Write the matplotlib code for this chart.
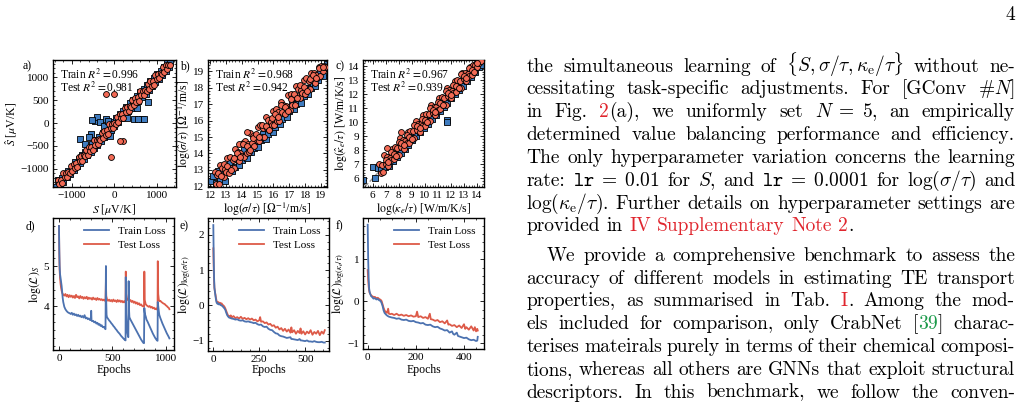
import numpy as np
import matplotlib
matplotlib.use('Agg')
import matplotlib.pyplot as plt
from matplotlib.ticker import MultipleLocator

W, H = 1025, 409
plt.rcParams.update({
    'font.family': ['Liberation Serif', 'DejaVu Serif'],
    'mathtext.fontset': 'stix',
    'font.size': 8,
    'axes.labelsize': 8.5,
    'axes.linewidth': 1.0,
    'xtick.direction': 'in', 'ytick.direction': 'in',
    'xtick.top': True, 'ytick.right': True,
    'xtick.minor.visible': True, 'ytick.minor.visible': True,
    'xtick.major.size': 3, 'ytick.major.size': 3,
    'xtick.minor.size': 1.5, 'ytick.minor.size': 1.5,
    'xtick.major.width': 0.6, 'ytick.major.width': 0.6,
    'xtick.minor.width': 0.5, 'ytick.minor.width': 0.5,
    'xtick.major.pad': 2.8, 'ytick.major.pad': 2.8,
    'legend.frameon': False,
})

# ---------------- data ----------------
# panel a: Seebeck S (true, predicted)
a_train = [(-1360,-1390),(-1320,-1250),(-1280,-1340),(-1240,-1200),(-1200,-1280),(-1160,-1110),(-1120,-1190),
           (-1080,-1060),(-1040,-1110),(-1000,-960),(-960,-1030),(-920,-860),(-880,-950),(-840,-790),(-800,-870),
           (-760,-700),(-720,-790),(-680,-630),(-640,-700),(-600,-550),(-560,-640),(-520,-460),(-480,-540),
           (-440,-380),(-400,-470),(-360,-300),(-320,-390),(-280,-220),(-240,-300),(-200,-140),(-160,-230),
           (-120,-60),(-80,-150),(-40,20),(0,-70),(40,110),(80,20),(120,190),(160,100),(200,270),(240,180),
           (280,350),(320,260),(360,430),(400,330),(440,510),(480,410),(520,590),(560,490),(600,670),(640,570),
           (680,750),(720,650),(760,830),(800,730),(840,910),(880,810),(920,990),(960,890),(1000,1070),
           (1040,970),(1080,1150),(1120,1050),(1160,1230),(1200,1130),(1240,1310),(1280,1230),(1300,1340),
           (-465,50),(-814,-341),(-116,-276),(651,93),(465,93),(737,630),(-420,130),(-330,20),(-560,-250),
           (-250,-60),(300,110),(520,320),(-700,-460),(780,470),(-600,-300),(-200,80),(-520,60),(-150,40),
           (560,80),(700,90)]
a_test = [(-1320,-1250),(-1290,-1340),(-1260,-1240),(-1230,-1320),(-1200,-1100),(-1170,-1190),(-1140,-1090),
          (-1110,-1180),(-1080,-1070),(-1050,-1090),(-1020,-940),(-990,-1050),(-960,-890),(-930,-980),
          (-900,-880),(-870,-960),(-840,-740),(-810,-830),(-780,-730),(-750,-820),(-720,-710),(-690,-730),
          (-660,-580),(-630,-690),(-600,-530),(-570,-620),(-540,-520),(-510,-600),(-480,-380),(-450,-470),
          (-420,-370),(-390,-460),(-360,-350),(-330,-370),(-300,-220),(-270,-330),(-240,-170),(-210,-260),
          (-180,-160),(-150,-240),(-120,-20),(-90,-110),(-60,-10),(-30,-100),(0,10),(30,-10),(60,140),(90,30),
          (120,190),(150,100),(180,200),(210,120),(240,340),(270,250),(300,350),(330,260),(360,370),(390,350),
          (420,500),(450,390),(480,550),(510,460),(540,560),(570,480),(600,700),(630,610),(660,710),(690,620),
          (720,730),(750,710),(780,860),(810,750),(840,910),(870,820),(900,920),(930,840),(960,1060),(990,970),
          (1020,1070),(1050,980),(1080,1090),(1110,1070),(1140,1220),(1170,1110),(1200,1270),(1230,1180),
          (1260,1280),(1290,1260),(-193,643),(0,643),(-77,-748),(193,-385),(140,-385)]

# panel b: log(sigma/tau)
b_train = [(12.05,12.3),(12.2,12.6),(12.35,12.2),(12.5,12.9),(12.65,12.4),(12.8,12.8),(12.95,12.3),(13.1,12.9),
           (13.25,13.5),(13.4,12.9),(13.55,13.2),(13.7,13.7),(13.85,13.3),(14.0,13.6),(14.15,14.2),(14.3,13.7),
           (14.45,14.1),(14.6,14.1),(14.75,14.3),(14.9,14.7),(15.05,14.4),(15.2,14.8),(15.35,15.2),(15.5,14.9),
           (15.65,15.2),(15.8,15.6),(15.95,15.3),(16.1,15.6),(16.25,16.2),(16.4,15.8),(16.55,16.1),(16.7,16.5),
           (16.85,16.2),(17.0,16.6),(17.15,17.1),(17.3,16.7),(17.45,17.0),(17.6,17.4),(17.75,17.1),(17.9,17.5),
           (18.05,18.0),(18.2,17.6),(18.35,18.0),(18.5,18.3),(18.65,18.1),(18.8,18.5),(18.95,18.9),(19.1,18.7),
           (19.25,19.2),(19.35,19.45),(19.4,19.3)]
b_test = [(12.30,12.85),(12.38,12.13),(12.46,12.66),(12.54,12.14),(12.62,13.32),(12.70,12.70),(12.78,13.13),
          (12.86,12.56),(12.94,13.04),(13.02,12.87),(13.10,13.70),(13.18,12.83),(13.26,13.81),(13.34,13.09),
          (13.42,13.62),(13.50,13.10),(13.58,14.28),(13.66,13.66),(13.74,14.09),(13.82,13.52),(13.90,14.00),
          (13.98,13.83),(14.06,14.66),(14.14,13.79),(14.22,14.77),(14.30,14.05),(14.38,14.58),(14.46,14.06),
          (14.54,15.24),(14.62,14.62),(14.70,15.05),(14.78,14.48),(14.86,14.96),(14.94,14.79),(15.02,15.62),
          (15.10,14.75),(15.18,15.73),(15.26,15.01),(15.34,15.54),(15.42,15.02),(15.50,16.20),(15.58,15.58),
          (15.66,16.01),(15.74,15.44),(15.82,15.92),(15.90,15.75),(15.98,16.58),(16.06,15.71),(16.14,16.69),
          (16.22,15.97),(16.30,16.50),(16.38,15.98),(16.46,17.16),(16.54,16.54),(16.62,16.97),(16.70,16.40),
          (16.78,16.88),(16.86,16.71),(16.94,17.54),(17.02,16.67),(17.10,17.65),(17.18,16.93),(17.26,17.46),
          (17.34,16.94),(17.42,18.12),(17.50,17.50),(17.58,17.93),(17.66,17.36),(17.74,17.84),(17.82,17.67),
          (17.90,18.50),(17.98,17.63),(18.06,18.61),(18.14,17.89),(18.22,18.42),(18.30,17.90),(18.38,18.88),
          (18.46,18.46),(18.54,18.89),(18.62,18.32),(18.70,18.80),(18.78,18.63),(18.86,19.26),(18.94,18.74),
          (19.02,19.32),(19.10,19.00),(19.18,19.33),(19.26,19.26),(14.3,15.3),(13.8,14.6),
          (12.5,12.8),(12.7,12.6),(12.9,13.35),(13.1,13.25),(13.3,13.0),(13.5,13.75),(13.7,14.0),(13.9,13.8),
          (14.1,14.55),(14.3,14.45),(14.5,14.2),(14.7,14.95),(14.9,15.2),(15.1,15.0),(15.3,15.75),(15.5,15.65),
          (15.7,15.4),(15.9,16.15),(16.1,16.4),(16.3,16.2),(16.5,16.95),(16.7,16.85),(16.9,16.6),(17.1,17.35),
          (17.3,17.6),(17.5,17.4),(17.7,18.15),(17.9,18.05),(18.1,17.8),(18.3,18.55),(18.5,18.8),(18.7,18.6),
          (18.9,19.2),(19.1,19.25)]

# panel c: log(kappa_e/tau)
c_train = [(5.25,5.88),(6.18,6.0),(6.05,6.83),(6.8,6.95),(6.4,6.7),(6.6,6.6),(6.95,6.8),(7.1,7.3),(7.25,6.9),
           (7.4,7.5),(7.55,7.2),(7.7,7.7),(7.85,7.5),(8.0,8.1),(8.15,7.8),(8.3,8.3),(8.45,8.1),(8.6,8.7),
           (8.75,8.4),(8.9,9.0),(9.05,8.7),(9.2,9.3),(9.35,9.0),(9.5,9.6),(9.65,9.3),(9.8,9.9),(9.95,9.6),
           (10.1,10.2),(10.25,9.9),(10.4,10.5),(10.55,10.2),(10.7,10.8),(10.85,10.5),(11.0,11.1),(11.15,10.8),
           (11.3,11.4),(11.45,11.1),(11.7,10.15),(11.7,10.0),(11.6,11.7),(11.75,11.4),(11.9,12.0),(12.05,11.7),
           (12.2,12.3),(12.35,12.0),(12.5,12.6),(12.65,12.3),(12.8,12.9),(12.95,12.6),(13.1,13.2),(13.25,12.9),
           (13.4,13.5),(13.55,13.2),(13.7,13.8),(13.85,13.6),(14.0,14.1),(14.15,13.9),(14.3,14.3),(14.4,14.1),
           (14.35,14.4)]
c_test = [(6.5,7.0),(6.6,6.4),(6.7,6.95),(6.8,6.45),(6.9,7.65),(7.0,7.05),(7.1,7.5),(7.2,6.9),(7.3,7.45),
          (7.4,7.3),(7.5,8.1),(7.6,7.35),(7.7,8.2),(7.8,7.6),(7.9,8.15),(8.0,7.65),(8.1,8.85),(8.2,8.25),
          (8.3,8.7),(8.4,8.1),(8.5,8.65),(8.6,8.5),(8.7,9.3),(8.8,8.55),(8.9,9.4),(9.0,8.8),(9.1,9.35),(9.2,8.85),
          (9.3,10.05),(9.4,9.45),(9.5,9.9),(9.6,9.3),(9.7,9.85),(9.8,9.7),(9.9,10.5),(10.0,9.75),(10.1,10.6),
          (10.2,10.0),(10.3,10.55),(10.4,10.05),(10.5,11.25),(10.6,10.65),(10.7,11.1),(10.8,10.5),(10.9,11.05),
          (11.0,10.9),(11.1,11.7),(11.2,10.95),(11.3,11.8),(11.4,11.2),(11.5,11.75),(11.6,11.25),(11.7,12.45),
          (11.8,11.85),(11.9,12.3),(12.0,11.7),(12.1,12.25),(12.2,12.1),(12.3,12.9),(12.4,12.15),(12.5,13.0),
          (12.6,12.4),(12.7,12.95),(12.8,12.45),(12.9,13.5),(13.0,13.05),(13.1,13.5),(13.2,12.9),(13.3,13.45),
          (13.4,13.3),(13.5,13.95),(13.6,13.35),(13.7,14.05),(13.8,13.6),(13.9,14.1),(14.0,13.9),(14.1,14.3),
          (14.2,14.2),(14.3,14.35),(7.07,8.14),(8.2,9.3),
          (7.0,7.3),(7.2,7.15),(7.4,7.85),(7.6,7.75),(7.8,7.6),(8.0,8.6),(8.2,8.5),(8.4,8.35),(8.6,9.05),
          (8.8,8.95),(9.0,8.8),(9.2,9.8),(9.4,9.7),(9.6,9.55),(9.8,10.25),(10.0,10.15),(10.2,10.0),(10.4,11.0),
          (10.6,10.9),(10.8,10.75),(11.0,11.45),(11.2,11.35),(11.4,11.2),(11.6,12.2),(11.8,12.1),(12.0,11.95),
          (12.2,12.65),(12.4,12.55),(12.6,12.4),(12.8,13.4),(13.0,13.3),(13.2,13.15),(13.4,13.85),(13.6,13.75),
          (13.8,13.6),(14.0,14.25)]

r2_labels = [("0.996", "0.981"), ("0.968", "0.942"), ("0.967", "0.939")]

# loss curves (epoch, log loss)
d_train = [(0,6.0),(3,5.4),(6,5.0),(10,4.8),(15,4.7),(20,4.6),(25,4.5),(30,4.35),(35,4.2),(40,4.1),(50,3.98),
           (60,3.92),(70,3.88),(80,3.85),(90,3.83),(100,3.82),(110,3.8),(120,3.83),(130,3.78),(140,3.81),
           (150,3.77),(160,3.79),(170,3.75),(180,3.78),(190,3.74),(200,3.76),(210,3.72),(220,3.75),(230,3.71),
           (240,3.77),(250,3.69),(260,3.71),(270,3.67),(280,3.69),(290,3.65),(300,3.66),(302,3.88),(305,3.64),
           (310,3.62),(320,3.63),(330,3.59),(340,3.61),(350,3.56),(360,3.58),(370,3.53),(380,3.55),(390,3.5),
           (400,3.52),(410,3.47),(420,3.48),(430,3.44),(436,3.42),(440,5.0),(442,4.2),(446,3.78),(450,3.72),
           (460,3.68),(470,3.64),(480,3.61),(490,3.57),(500,3.54),(510,3.5),(520,3.47),(530,3.43),(540,3.4),
           (550,3.36),(560,3.33),(570,3.3),(580,3.26),(590,3.23),(600,3.2),(610,3.17),(618,3.15),(624,3.14),
           (626,4.72),(630,3.8),(636,3.5),(640,3.35),(646,3.25),(650,3.22),(653,4.62),(656,3.95),(660,3.72),
           (670,3.66),(680,3.61),(690,3.56),(700,3.51),(710,3.46),(720,3.41),(730,3.36),(740,3.31),(750,3.26),
           (760,3.21),(770,3.16),(780,3.12),(790,3.08),(797,3.07),(800,3.95),(803,3.85),(808,3.78),(815,3.72),
           (820,3.66),(830,3.61),(840,3.55),(850,3.49),(860,3.43),(870,3.37),(880,3.31),(890,3.26),(900,3.21),
           (910,3.17),(918,3.14),(924,3.13),(926,4.1),(930,4.0),(935,3.88),(940,3.78),(950,3.7),(960,3.63),
           (970,3.56),(980,3.5),(990,3.44),(1000,3.38),(1010,3.32),(1020,3.27),(1030,3.22),(1035,3.19)]
d_test = [(0,6.0),(3,5.3),(6,4.9),(10,4.7),(15,4.55),(20,4.45),(25,4.38),(30,4.33),(40,4.28),(50,4.26),
          (60,4.3),(70,4.24),(80,4.28),(90,4.22),(100,4.27),(110,4.23),(120,4.26),(130,4.21),(140,4.25),
          (150,4.2),(160,4.28),(170,4.22),(180,4.24),(190,4.19),(200,4.25),(210,4.2),(220,4.23),(230,4.18),
          (240,4.22),(250,4.19),(260,4.23),(270,4.17),(280,4.21),(290,4.18),(300,4.2),(310,4.16),(320,4.21),
          (330,4.17),(340,4.19),(350,4.15),(360,4.2),(370,4.16),(380,4.18),(390,4.15),(400,4.17),(410,4.14),
          (420,4.16),(430,4.13),(436,4.13),(440,4.62),(443,4.25),(450,4.17),(460,4.13),(470,4.16),(480,4.12),
          (490,4.15),(500,4.11),(510,4.16),(520,4.12),(530,4.14),(540,4.1),(550,4.15),(560,4.11),(570,4.14),
          (580,4.1),(590,4.13),(600,4.09),(610,4.12),(618,4.1),(624,4.08),(626,4.86),(630,4.3),(640,4.15),
          (650,4.18),(660,4.12),(670,4.15),(680,4.1),(690,4.13),(700,4.08),(710,4.11),(720,4.06),(730,4.09),
          (740,4.04),(750,4.07),(760,4.02),(770,4.04),(780,4.0),(790,3.99),(797,3.98),(800,4.86),(804,4.15),
          (812,4.05),(820,4.02),(830,4.0),(840,3.98),(850,4.0),(860,3.96),(870,3.98),(880,3.94),(890,3.96),
          (900,3.92),(910,3.94),(918,3.92),(924,3.9),(926,5.12),(930,4.3),(936,4.15),(945,4.12),(950,4.13),
          (960,4.1),(970,4.08),(980,4.06),(990,4.05),(1000,4.02),(1010,4.0),(1020,3.97),(1030,3.95),(1035,3.92)]

e_train = [(0,2.28),(2,1.4),(4,0.8),(6,0.5),(9,0.38),(12,0.25),(15,0.15),(18,0.08),(22,0.05),(26,0.06),(30,0.03),
           (35,0.04),(40,0.01),(45,0.0),(50,-0.02),(55,-0.05),(60,-0.08),(65,-0.12),(70,-0.2),(75,-0.27),
           (80,-0.31),(85,-0.34),(90,-0.35),(100,-0.37),(110,-0.38),(120,-0.4),(130,-0.39),(140,-0.42),
           (150,-0.43),(160,-0.42),(170,-0.45),(180,-0.46),(190,-0.45),(200,-0.47),(210,-0.48),(220,-0.5),
           (230,-0.49),(240,-0.53),(250,-0.55),(260,-0.54),(270,-0.59),(280,-0.61),(290,-0.6),(300,-0.66),
           (310,-0.69),(320,-0.7),(330,-0.75),(340,-0.79),(350,-0.8),(360,-0.85),(370,-0.87),(380,-0.88),
           (390,-0.9),(400,-0.92),(410,-0.91),(420,-0.9),(425,-0.95),(430,-0.95),(440,-0.96),(450,-0.97),
           (460,-0.98),(470,-0.95),(475,-0.99),(480,-0.99),(490,-1.0),(500,-1.01),(510,-0.99),(520,-1.02),
           (530,-1.02),(540,-1.03),(550,-1.01),(560,-1.03),(570,-1.04),(580,-1.04),(590,-1.03),(600,-1.05),
           (607,-1.05)]
e_test = [(0,1.62),(2,1.1),(4,0.7),(6,0.5),(9,0.38),(12,0.3),(15,0.2),(18,0.12),(22,0.08),(26,0.1),(30,0.06),
          (35,0.08),(40,0.05),(45,0.06),(50,0.02),(55,0.0),(60,-0.03),(65,-0.08),(70,-0.15),(75,-0.22),
          (80,-0.28),(85,-0.3),(90,-0.33),(95,-0.28),(100,-0.34),(110,-0.3),(120,-0.36),(130,-0.33),
          (140,-0.37),(150,-0.32),(160,-0.38),(170,-0.35),(180,-0.39),(190,-0.36),(200,-0.4),(210,-0.37),
          (220,-0.42),(230,-0.4),(240,-0.45),(250,-0.42),(255,-0.33),(260,-0.46),(270,-0.45),(280,-0.5),
          (290,-0.48),(300,-0.54),(310,-0.52),(320,-0.58),(330,-0.56),(340,-0.63),(350,-0.6),(360,-0.68),
          (370,-0.64),(380,-0.72),(390,-0.66),(400,-0.74),(410,-0.68),(420,-0.77),(425,-0.62),(430,-0.76),
          (440,-0.7),(450,-0.8),(460,-0.72),(470,-0.78),(475,-0.65),(480,-0.8),(490,-0.73),(500,-0.82),
          (510,-0.74),(520,-0.79),(530,-0.7),(540,-0.83),(550,-0.75),(560,-0.8),(570,-0.72),(580,-0.84),
          (590,-0.74),(600,-0.8),(607,-0.7)]

f_train = [(0,1.82),(2,1.0),(4,0.55),(6,0.3),(8,0.22),(10,0.18),(14,0.12),(18,0.1),(24,0.06),(30,0.07),(36,0.04),
           (42,0.05),(48,0.02),(54,0.0),(58,-0.05),(62,-0.12),(66,-0.22),(70,-0.28),(76,-0.32),(82,-0.35),
           (88,-0.37),(94,-0.38),(100,-0.39),(110,-0.4),(120,-0.42),(130,-0.41),(140,-0.44),(150,-0.45),
           (160,-0.44),(170,-0.47),(180,-0.48),(190,-0.47),(200,-0.5),(210,-0.51),(220,-0.53),(230,-0.52),
           (240,-0.56),(250,-0.57),(260,-0.56),(270,-0.6),(280,-0.62),(290,-0.61),(300,-0.65),(310,-0.67),
           (320,-0.7),(330,-0.69),(340,-0.75),(350,-0.72),(355,-0.78),(360,-0.8),(370,-0.75),(375,-0.83),
           (380,-0.84),(390,-0.86),(400,-0.88),(410,-0.87),(420,-0.91),(430,-0.93),(440,-0.92),(450,-0.95),
           (455,-0.94),(457,-0.85)]
f_test = [(0,0.74),(2,0.5),(4,0.35),(6,0.25),(8,0.2),(10,0.18),(14,0.14),(18,0.12),(24,0.1),(30,0.1),(36,0.07),
          (42,0.08),(48,0.05),(54,0.03),(58,0.0),(62,-0.08),(66,-0.16),(70,-0.22),(76,-0.27),(80,-0.28),
          (85,-0.18),(88,-0.3),(94,-0.31),(100,-0.3),(110,-0.33),(120,-0.3),(130,-0.34),(140,-0.32),
          (150,-0.35),(160,-0.33),(170,-0.36),(180,-0.34),(190,-0.37),(200,-0.36),(205,-0.25),(210,-0.38),
          (220,-0.36),(230,-0.4),(240,-0.38),(250,-0.42),(258,-0.3),(262,-0.43),(270,-0.44),(280,-0.47),
          (290,-0.45),(300,-0.5),(310,-0.48),(320,-0.53),(330,-0.46),(335,-0.56),(340,-0.55),(350,-0.59),
          (360,-0.57),(370,-0.62),(380,-0.58),(390,-0.64),(400,-0.55),(405,-0.66),(410,-0.62),(420,-0.68),
          (430,-0.6),(440,-0.7),(445,-0.62),(450,-0.72),(455,-0.66),(457,-0.7)]

# ---------------- figure ----------------
fig = plt.figure(figsize=(W / 100, H / 100), dpi=100)

def add_ax(l, t, r, b):
    return fig.add_axes([l / W, 1 - b / H, (r - l) / W, (b - t) / H])

BLUE_S, RED_S = '#3f7cc0', '#f26a55'
BLUE_L, RED_L = '#4c72b0', '#dd5a48'

scatter_specs = [
    (a_train, a_test, (53, 60, 176, 187), (-1440, 1440), (-1400, 1380), 1000, 500,
     r'$S$ [$\mu$V/K]', r'$\hat{S}$ [$\mu$V/K]', 12, 'a)', (27, 66)),
    (b_train, b_test, (208, 60, 327, 187), (11.87, 19.38), (11.95, 19.7), 1, 1,
     r'$\log(\sigma/\tau)$ [$\Omega^{-1}$/m/s]', r'$\log(\hat{\sigma}/\tau)$ [$\Omega^{-1}$/m/s]', 184, 'b)', (185, 66)),
    (c_train, c_test, (363, 60, 484, 187), (5.25, 14.56), (5.38, 14.43), 1, 1,
     r'$\log(\kappa_e/\tau)$ [W/m/K/s]', r'$\log(\hat{\kappa}_e/\tau)$ [W/m/K/s]', 341, 'c)', (340, 66)),
]

for (tr, te, box, xl, yl, xmaj, ymaj, xlab, ylab, ylab_x, letter, lpos), (r2tr, r2te) in zip(scatter_specs, r2_labels):
    l, t, r, b = box
    ax = add_ax(l, t, r, b)
    tr = np.array(tr); te = np.array(te)
    ax.axline((0, 0), slope=1, color='#999999', ls='--', lw=1.0, zorder=1)
    ax.scatter(tr[:, 0], tr[:, 1], marker='s', s=15, c=BLUE_S, edgecolors='black', linewidths=0.6, zorder=2)
    ax.scatter(te[:, 0], te[:, 1], marker='o', s=18, c=RED_S, edgecolors='black', linewidths=0.6, zorder=3)
    ax.set_xlim(*xl); ax.set_ylim(*yl)
    ax.xaxis.set_major_locator(MultipleLocator(xmaj))
    ax.yaxis.set_major_locator(MultipleLocator(ymaj))
    ax.set_xlabel(xlab)
    ax.set_ylabel(ylab)
    ax.xaxis.set_label_coords(0.5, -(209 - b) / (b - t))
    ax.xaxis.label.set_va('center')
    ax.yaxis.set_label_coords((ylab_x - l) / (r - l), 0.5)
    ax.yaxis.label.set_va('center')
    ax.text(0.055, 0.887, 'Train $R^2=$' + r2tr, transform=ax.transAxes, va='center', ha='left', fontsize=8.3, zorder=5)
    ax.text(0.055, 0.777, 'Test $R^2=$' + r2te, transform=ax.transAxes, va='center', ha='left', fontsize=8.3, zorder=5)
    fig.text(lpos[0] / W, 1 - lpos[1] / H, letter, ha='center', va='center', fontsize=8.5)

loss_specs = [
    (d_train, d_test, (53, 218, 174, 350), (-56, 1078), (2.9, 6.2), [4, 5], 500, 100, 0.2,
     r'$\log(\mathcal{L})_S$', 35, 'd)', (30, 226)),
    (e_train, e_test, (208, 218, 329, 351), (-29, 630), (-1.29, 2.48), [-1, 0, 1, 2], 250, 50, 0.2,
     r'$\log(\mathcal{L})_{\log(\sigma/\tau)}$', 185, 'e)', (184, 226)),
    (f_train, f_test, (363, 218, 484, 349), (-19.5, 483), (-1.14, 1.98), [-1, 0, 1], 200, 50, 0.2,
     r'$\log(\mathcal{L})_{\log(\kappa_e/\tau)}$', 339, 'f)', (339, 226)),
]

for tr, te, box, xl, yl, yt, xmaj, xmin, ymin, ylab, ylab_x, letter, lpos in loss_specs:
    l, t, r, b = box
    ax = add_ax(l, t, r, b)
    tr = np.array(tr); te = np.array(te)
    ax.plot(tr[:, 0], tr[:, 1], color=BLUE_L, lw=1.3, label='Train Loss', zorder=3)
    ax.plot(te[:, 0], te[:, 1], color=RED_L, lw=1.3, label='Test Loss', zorder=2)
    ax.set_xlim(*xl); ax.set_ylim(*yl)
    ax.set_yticks(yt)
    ax.xaxis.set_major_locator(MultipleLocator(xmaj))
    ax.xaxis.set_minor_locator(MultipleLocator(xmin))
    ax.yaxis.set_minor_locator(MultipleLocator(ymin))
    ax.set_xlabel('Epochs')
    ax.xaxis.set_label_coords(0.5, -(370 - b) / (b - t))
    ax.xaxis.label.set_va('center')
    ax.set_ylabel(ylab)
    ax.yaxis.set_label_coords((ylab_x - l) / (r - l), 0.5)
    ax.yaxis.label.set_va('center')
    ax.legend(loc='upper right', fontsize=8, handlelength=2.3, borderaxespad=0.35, labelspacing=0.4,
              handletextpad=0.8)
    fig.text(lpos[0] / W, 1 - lpos[1] / H, letter, ha='center', va='center', fontsize=8.5)

# ---------------- body text (right column) ----------------
RED_T, GREEN_T = '#e0262e', '#1b9a4a'
BODY_FS = 14
BODY = dict(fontsize=BODY_FS, family='cmr10', math_fontfamily='cm')

para1 = [
    ["the", "simultaneous", "learning", "of", r"$\{S,\sigma/\tau,\kappa_{\mathrm{e}}/\tau\}$", "without", "ne-"],
    ["cessitating", "task-specific", "adjustments.", "For", "[GConv", r"#$N$]"],
    ["in", "Fig.", [("2", RED_T), ("(a),", 'k')], "we", "uniformly", "set", r"$N\;=\;5$,", "an", "empirically"],
    ["determined", "value", "balancing", "performance", "and", "efficiency."],
    ["The", "only", "hyperparameter", "variation", "concerns", "the", "learning"],
    ["rate:", r"$\mathtt{lr}\;=\;\mathtt{0.01}$", "for", r"$S$,", "and", r"$\mathtt{lr}\;=\;\mathtt{0.0001}$",
     "for", r"$\log(\sigma/\tau)$", "and"],
    [r"$\log(\kappa_{\mathrm{e}}/\tau)$.", "Further", "details", "on", "hyperparameter", "settings", "are"],
    ["provided", "in", [("IV", RED_T)], [("Supplementary", RED_T)], [("Note", RED_T)], [("2", RED_T), (".", 'k')]],
]
para2 = [
    ["We", "provide", "a", "comprehensive", "benchmark", "to", "assess", "the"],
    ["accuracy", "of", "different", "models", "in", "estimating", "TE", "transport"],
    ["properties,", "as", "summarised", "in", "Tab.", [("I", RED_T), (".", 'k')], "Among", "the", "mod-"],
    ["els", "included", "for", "comparison,", "only", "CrabNet", [("[", 'k'), ("39", GREEN_T), ("]", 'k')], "charac-"],
    ["terises", "mateirals", "purely", "in", "terms", "of", "their", "chemical", "composi-"],
    ["tions,", "whereas", "all", "others", "are", "GNNs", "that", "exploit", "structural"],
    ["descriptors.", "In", "this", "benchmark,", "we", "follow", "the", "conven-"],
]

fig.canvas.draw()
renderer = fig.canvas.get_renderer()

def measure(s):
    t = fig.text(0, 0, s, **BODY)
    w = t.get_window_extent(renderer).width
    t.remove()
    return w

X0, X1 = 526.5, 1015.0
NAT_SPACE = 0.333 * BODY_FS * 100 / 72

def place_line(words, y, indent=0.0, justify=True):
    items = []
    for w in words:
        pieces = [(w, 'k')] if isinstance(w, str) else w
        ws = [measure(p) for p, _ in pieces]
        items.append((pieces, ws))
    total = sum(sum(ws) for _, ws in items)
    x0 = X0 + indent
    gap = (X1 - x0 - total) / (len(items) - 1) if justify else NAT_SPACE
    x = x0
    for pieces, ws in items:
        for (p, col), pw in zip(pieces, ws):
            fig.text(x / W, 1 - y / H, p, color=col, ha='left', va='baseline', **BODY)
            x += pw
        x += gap

for i, line in enumerate(para1):
    place_line(line, 71.7 + 22.8 * i, justify=(i < len(para1) - 1))
for i, line in enumerate(para2):
    place_line(line, 260.7 + 22.8 * i, indent=(20.0 if i == 0 else 0.0))

fig.text(1015 / W, 1 - 20 / H, "4", ha='right', va='baseline', **BODY)

fig.savefig('out.png', dpi=100)
